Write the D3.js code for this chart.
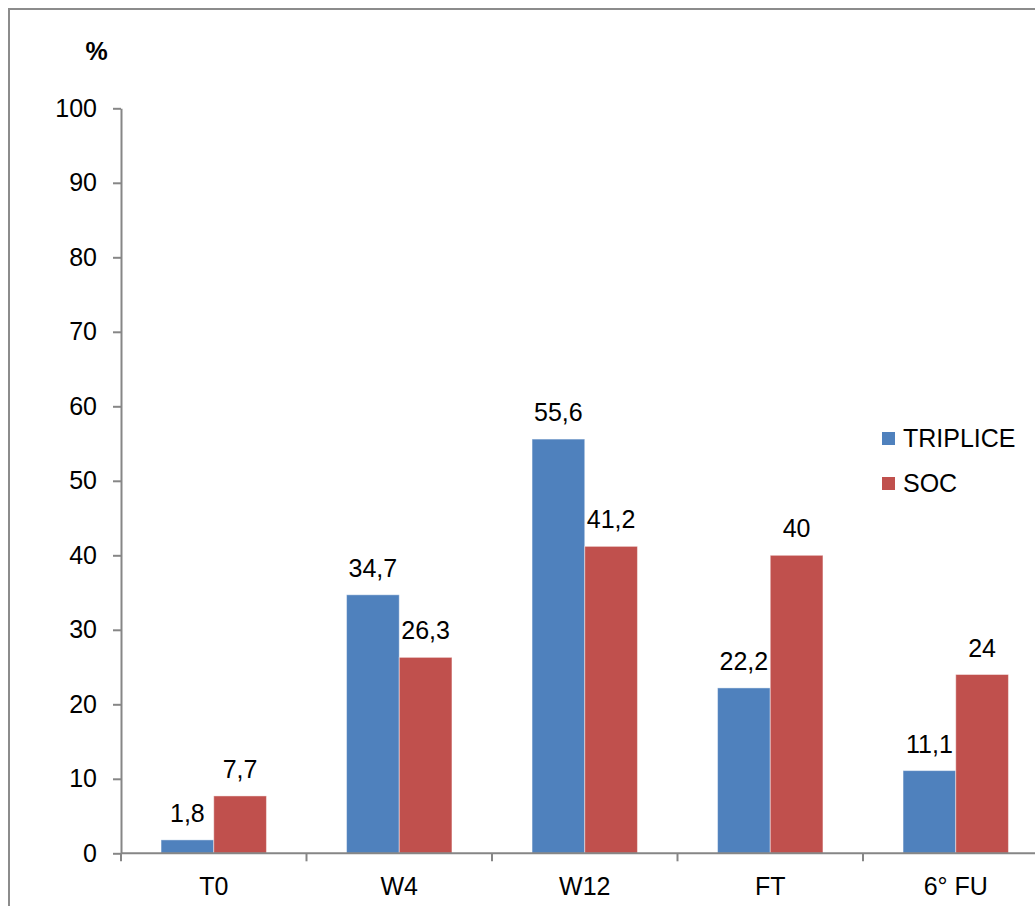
<!DOCTYPE html>
<html>
<head>
<meta charset="utf-8">
<script src="https://cdn.jsdelivr.net/npm/d3@7"></script>
<style>
  html, body { margin: 0; padding: 0; background: #fff; }
  svg { display: block; font-family: "Liberation Sans", Arial, sans-serif; }
</style>
</head>
<body>
<svg id="chart" width="1035" height="906"></svg>
<script>
// Timepoints and percentage values per arm
const categories = ["T0", "W4", "W12", "FT", "6° FU"];
const seriesNames = ["TRIPLICE", "SOC"];
const triplice = [1.8, 34.7, 55.6, 22.2, 11.1];
const soc = [7.7, 26.3, 41.2, 40, 24];
const yTicks = [0, 10, 20, 30, 40, 50, 60, 70, 80, 90, 100];
const colors = ["#4F81BD", "#C0504D"];

const values = [triplice, soc];
const fmt = v => String(v).replace(".", ",");

const svg = d3.select("#chart");
const axisColor = "#868686";
const fontSize = 25;

// outer frame
svg.append("rect")
  .attr("x", 9).attr("y", 9)
  .attr("width", 1200).attr("height", 1100)
  .attr("fill", "none")
  .attr("stroke", "#8c8c8c")
  .attr("stroke-width", 2);

const plotLeft = 121, plotRight = 1048.5, plotTop = 108.3, plotBottom = 853.3;

const x = d3.scaleBand().domain(categories).range([plotLeft, plotRight]).paddingInner(0).paddingOuter(0);
const x1 = d3.scaleBand().domain(seriesNames).range([0, x.bandwidth()]).paddingInner(0).paddingOuter(0.76);
const y = d3.scaleLinear().domain([0, 100]).range([plotBottom, plotTop]);

// Y axis
const yAxis = svg.append("g")
  .attr("transform", `translate(${plotLeft},0)`)
  .call(d3.axisLeft(y).tickValues(yTicks).tickSize(8).tickSizeOuter(0).tickPadding(16));
yAxis.select(".domain").attr("stroke", axisColor).attr("stroke-width", 2);
yAxis.selectAll(".tick line").attr("stroke", axisColor).attr("stroke-width", 2);
yAxis.selectAll(".tick text")
  .attr("fill", "#000")
  .style("font-size", fontSize + "px")
  .style("font-family", "'Liberation Sans', Arial, sans-serif");

// Bars
categories.forEach((c, i) => {
  seriesNames.forEach((s, j) => {
    const v = values[j][i];
    const bx = x(c) + x1(s);
    svg.append("rect")
      .attr("x", bx)
      .attr("y", y(v))
      .attr("width", x1.bandwidth())
      .attr("height", y(0) - y(v))
      .attr("fill", colors[j])
      .attr("stroke", "rgba(255,255,255,0.45)")
      .attr("stroke-width", 1);
    svg.append("text")
      .attr("x", bx + x1.bandwidth() / 2)
      .attr("y", y(v) - 18)
      .attr("text-anchor", "middle")
      .style("font-size", fontSize + "px")
      .attr("fill", "#000")
      .text(fmt(v));
  });
});

// X axis: line, boundary ticks, centered labels
const xg = svg.append("g");
xg.append("line")
  .attr("x1", plotLeft).attr("x2", plotRight)
  .attr("y1", plotBottom).attr("y2", plotBottom)
  .attr("stroke", axisColor).attr("stroke-width", 2);
const bounds = categories.map(c => x(c)).concat([x.range()[1]]);
xg.selectAll("line.tick").data(bounds).join("line")
  .attr("class", "tick")
  .attr("x1", d => d).attr("x2", d => d)
  .attr("y1", plotBottom).attr("y2", plotBottom + 8)
  .attr("stroke", axisColor).attr("stroke-width", 2);
xg.selectAll("text").data(categories).join("text")
  .attr("x", d => x(d) + x.bandwidth() / 2)
  .attr("y", 895)
  .attr("text-anchor", "middle")
  .style("font-size", fontSize + "px")
  .attr("fill", "#000")
  .text(d => d);

// Y unit label
svg.append("text")
  .attr("x", 96.5).attr("y", 60)
  .attr("text-anchor", "middle")
  .style("font-size", fontSize + "px")
  .style("font-weight", "bold")
  .text("%");

// Legend
const legend = svg.append("g");
seriesNames.forEach((s, j) => {
  const ly = 432 + j * 45;
  legend.append("rect")
    .attr("x", 882).attr("y", ly)
    .attr("width", 13).attr("height", 13)
    .attr("fill", colors[j]);
  legend.append("text")
    .attr("x", 903).attr("y", ly + 15)
    .style("font-size", fontSize + "px")
    .attr("fill", "#000")
    .text(s);
});
</script>
</body>
</html>
